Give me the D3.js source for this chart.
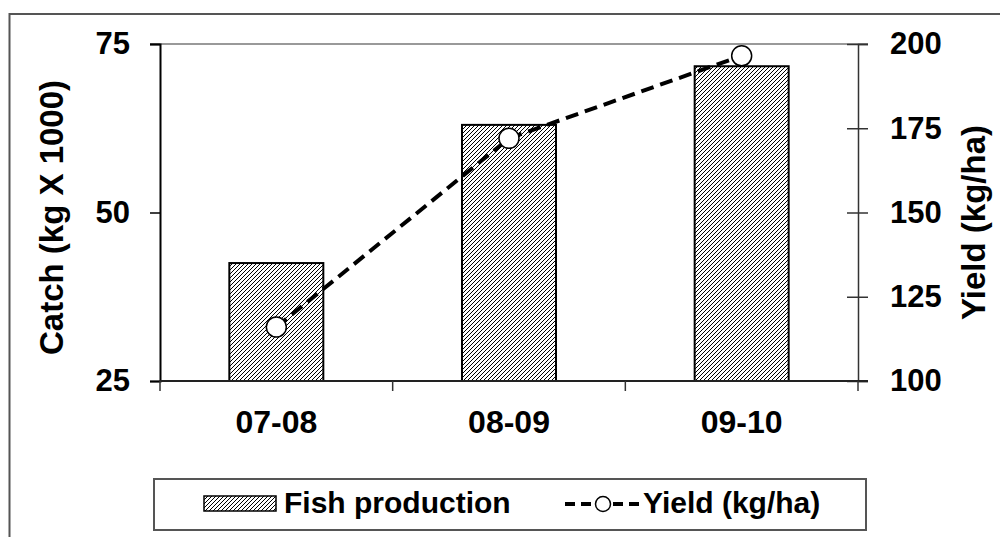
<!DOCTYPE html>
<html>
<head>
<meta charset="utf-8">
<script src="https://cdn.jsdelivr.net/npm/d3@7"></script>
<style>
  html, body { margin: 0; padding: 0; background: #fff; }
  svg { display: block; }
  text { font-family: "Liberation Sans", Arial, sans-serif; font-weight: bold; fill: #000; }
</style>
</head>
<body>
<svg id="chart" width="1000" height="537"></svg>
<script>
const categories = ["07-08", "08-09", "09-10"];
const fishProduction = [42.5, 63, 71.7];
const yieldValues = [116, 172, 196.5];
const leftTicks = [25, 50, 75];
const rightTicks = [100, 125, 150, 175, 200];
const leftTitle = "Catch (kg X 1000)";
const rightTitle = "Yield (kg/ha)";
const legendLabels = ["Fish production", "Yield (kg/ha)"];

const svg = d3.select("#chart");
const L = 160, R = 858, T = 44, B = 381;

// hatch pattern (crisp diagonal stripes)
const defs = svg.append("defs");
const pat = defs.append("pattern")
  .attr("id", "hatch")
  .attr("patternUnits", "userSpaceOnUse")
  .attr("width", 4).attr("height", 4);
pat.append("rect").attr("width", 4).attr("height", 4).attr("fill", "#fff");
pat.append("path").attr("d", "M-1,5 L5,-1 M-3,3 L3,-3 M1,7 L7,1")
  .attr("stroke", "#000").attr("stroke-width", 1.4)
  .attr("shape-rendering", "crispEdges");

// outer frame
svg.append("path").attr("d", "M9.5,537 L9.5,14 L1000,14")
  .attr("fill", "none").attr("stroke", "#555").attr("stroke-width", 2);

const x = d3.scaleBand().domain(categories).range([L, R]).paddingInner(0).paddingOuter(0);
const yL = d3.scaleLinear().domain([25, 75]).range([B, T]);
const yR = d3.scaleLinear().domain([100, 200]).range([B, T]);

// top gridline
svg.append("line").attr("x1", L - 10).attr("x2", R + 10).attr("y1", yL(75)).attr("y2", yL(75))
  .attr("stroke", "#999").attr("stroke-width", 2);

// bars
const barW = x.bandwidth() * 0.404;
svg.append("g").selectAll("rect").data(fishProduction).join("rect")
  .attr("x", (d, i) => x(categories[i]) + x.bandwidth() / 2 - barW / 2)
  .attr("y", d => yL(d))
  .attr("width", barW)
  .attr("height", d => yL(25) - yL(d))
  .attr("fill", "url(#hatch)")
  .attr("stroke", "#000").attr("stroke-width", 2);

// left axis
const gL = svg.append("g").attr("transform", `translate(${L},0)`)
  .call(d3.axisLeft(yL).tickValues(leftTicks).tickSize(10).tickPadding(20).tickFormat(d3.format("d")));
gL.select(".domain").attr("stroke", "#000").attr("stroke-width", 2);
gL.selectAll(".tick line").attr("stroke", "#000").attr("stroke-width", 1.5);
gL.selectAll(".tick text").style("font-size", "31px").attr("font-family", null);

// right axis
const gR = svg.append("g").attr("transform", `translate(${R},0)`)
  .call(d3.axisRight(yR).tickValues(rightTicks).tickSize(10).tickPadding(22).tickFormat(d3.format("d")));
gR.select(".domain").attr("stroke", "#333").attr("stroke-width", 1.5);
gR.selectAll(".tick line").attr("x1", -11).attr("stroke", "#333").attr("stroke-width", 1.5);
gR.selectAll(".tick text").style("font-size", "31px").attr("font-family", null);

// x axis
svg.append("line").attr("x1", L).attr("x2", R + 10).attr("y1", B).attr("y2", B)
  .attr("stroke", "#222").attr("stroke-width", 2);
const tickXs = categories.map(c => x(c)).concat([x.range()[1]]);
svg.append("g").selectAll("line").data(tickXs).join("line")
  .attr("x1", d => d).attr("x2", d => d).attr("y1", B).attr("y2", B + 10)
  .attr("stroke", "#333").attr("stroke-width", 1.5);
svg.append("g").selectAll("text").data(categories).join("text")
  .attr("x", d => x(d) + x.bandwidth() / 2)
  .attr("y", 433)
  .attr("text-anchor", "middle")
  .style("font-size", "32px")
  .text(d => d);

// yield line
const line = d3.line()
  .x((d, i) => x(categories[i]) + x.bandwidth() / 2)
  .y(d => yR(d));
svg.append("path").datum(yieldValues).attr("d", line)
  .attr("fill", "none").attr("stroke", "#000").attr("stroke-width", 4)
  .attr("stroke-dasharray", "13,7");
svg.append("g").selectAll("circle").data(yieldValues).join("circle")
  .attr("cx", (d, i) => x(categories[i]) + x.bandwidth() / 2)
  .attr("cy", d => yR(d))
  .attr("r", 10)
  .attr("fill", "#fff").attr("stroke", "#000").attr("stroke-width", 1.5);

// axis titles
svg.append("text")
  .attr("transform", `translate(63,${(T + B) / 2 + 5}) rotate(-90)`)
  .attr("text-anchor", "middle")
  .style("font-size", "33px")
  .text(leftTitle);
svg.append("text")
  .attr("transform", `translate(985,${(T + B) / 2 + 10}) rotate(-90)`)
  .attr("text-anchor", "middle")
  .style("font-size", "33px")
  .text(rightTitle);

// legend
const lg = svg.append("g");
lg.append("rect").attr("x", 154).attr("y", 479).attr("width", 712).attr("height", 51)
  .attr("fill", "#fff").attr("stroke", "#555").attr("stroke-width", 2);
lg.append("rect").attr("x", 204).attr("y", 496).attr("width", 72).attr("height", 15)
  .attr("fill", "url(#hatch)").attr("stroke", "#000").attr("stroke-width", 1.5);
lg.append("text").attr("x", 284).attr("y", 513).style("font-size", "30px").text(legendLabels[0]);
lg.append("line").attr("x1", 565).attr("x2", 641).attr("y1", 504).attr("y2", 504)
  .attr("stroke", "#000").attr("stroke-width", 4).attr("stroke-dasharray", "10,6");
lg.append("circle").attr("cx", 603).attr("cy", 504).attr("r", 7.5)
  .attr("fill", "#fff").attr("stroke", "#000").attr("stroke-width", 1.5);
lg.append("text").attr("x", 643).attr("y", 513).style("font-size", "30px").text(legendLabels[1]);
</script>
</body>
</html>
